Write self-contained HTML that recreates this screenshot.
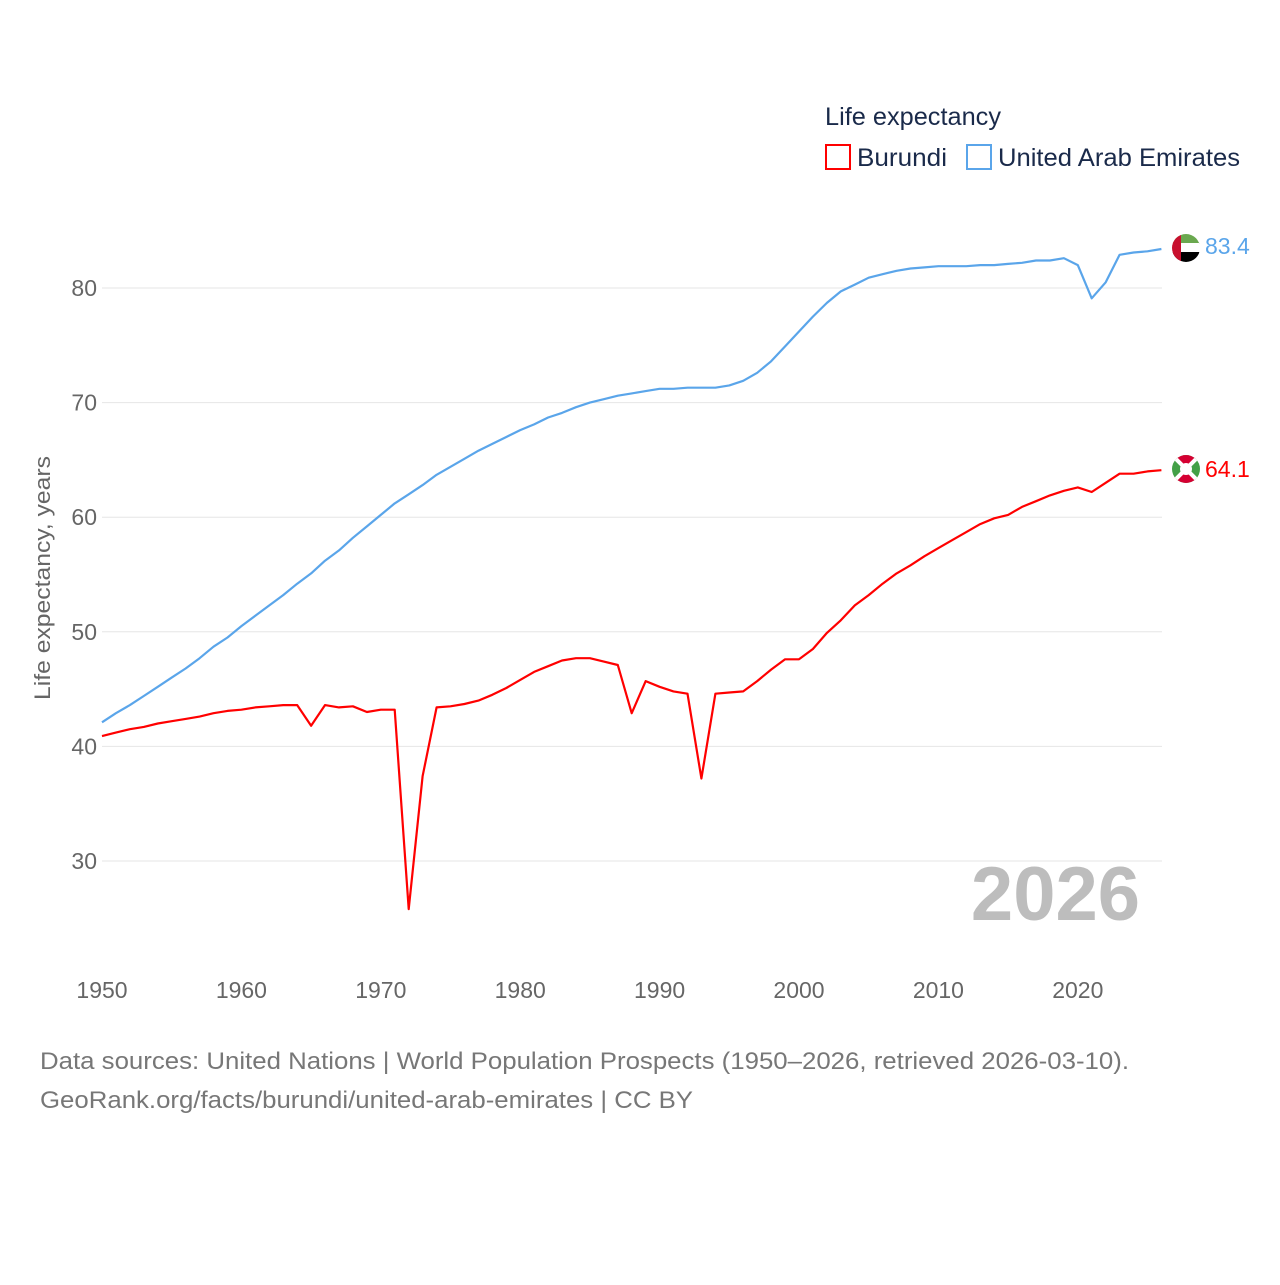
<!DOCTYPE html>
<html><head><meta charset="utf-8"><style>
body{margin:0;background:#fff;font-family:"Liberation Sans",sans-serif}
svg text{font-family:"Liberation Sans",sans-serif}
</style></head><body>
<svg id="chart" width="1280" height="1280" viewBox="0 0 1280 1280" xmlns="http://www.w3.org/2000/svg">
<g id="grid"></g>
<g id="yticks"></g>
<g id="xticks"></g>
<text transform="translate(50,578) rotate(-90)" text-anchor="middle" font-size="22" fill="#666" textLength="244" lengthAdjust="spacingAndGlyphs">Life expectancy, years</text>
<text x="1140" y="920" text-anchor="end" font-size="76" font-weight="bold" fill="#bdbdbd">2026</text>
<g id="series"></g>
<g>
<text x="825" y="125" font-size="25" fill="#1a2a4a" textLength="176" lengthAdjust="spacingAndGlyphs">Life expectancy</text>
<rect x="826" y="145" width="24" height="24" fill="none" stroke="#ff0000" stroke-width="2"/>
<text x="857" y="166" font-size="25" fill="#1a2a4a" textLength="90" lengthAdjust="spacingAndGlyphs">Burundi</text>
<rect x="967" y="145" width="24" height="24" fill="none" stroke="#5aa5ea" stroke-width="2"/>
<text x="998" y="166" font-size="25" fill="#1a2a4a" textLength="242" lengthAdjust="spacingAndGlyphs">United Arab Emirates</text>
</g>
<g>
<clipPath id="c1"><circle cx="1186" cy="248" r="14"/></clipPath>
<g clip-path="url(#c1)"><rect x="1172" y="234" width="28" height="10" fill="#6aa84f"/><rect x="1172" y="243" width="28" height="10" fill="#fff"/><rect x="1172" y="252" width="28" height="10" fill="#000"/><rect x="1172" y="234" width="9" height="28" fill="#c8102e"/></g>
</g>
<g>
<clipPath id="c2"><circle cx="1186" cy="469" r="14"/></clipPath>
<g clip-path="url(#c2)"><rect x="1172" y="455" width="28" height="28" fill="#43a047"/><polygon points="1172,455 1200,455 1186,469" fill="#d50032"/><polygon points="1172,483 1200,483 1186,469" fill="#d50032"/><line x1="1172" y1="455" x2="1200" y2="483" stroke="#fff" stroke-width="4"/><line x1="1200" y1="455" x2="1172" y2="483" stroke="#fff" stroke-width="4"/><circle cx="1186" cy="469" r="6" fill="#fff"/></g>
</g>
<text x="1205" y="254" font-size="23" fill="#5aa5ea">83.4</text>
<text x="1205" y="477" font-size="23" fill="#ff0000">64.1</text>
<text x="40" y="1069" font-size="24" fill="#777" textLength="1089" lengthAdjust="spacingAndGlyphs">Data sources: United Nations | World Population Prospects (1950–2026, retrieved 2026-03-10).</text>
<text x="40" y="1108" font-size="24" fill="#777" textLength="653" lengthAdjust="spacingAndGlyphs">GeoRank.org/facts/burundi/united-arab-emirates | CC BY</text>
</svg>
<script>
const startYear = 1950;
const uaeValues = [42.1,42.9,43.6,44.4,45.2,46.0,46.8,47.7,48.7,49.5,50.5,51.4,52.3,53.2,54.2,55.1,56.2,57.1,58.2,59.2,60.2,61.2,62.0,62.8,63.7,64.4,65.1,65.8,66.4,67.0,67.6,68.1,68.7,69.1,69.6,70.0,70.3,70.6,70.8,71.0,71.2,71.2,71.3,71.3,71.3,71.5,71.9,72.6,73.6,74.9,76.2,77.5,78.7,79.7,80.3,80.9,81.2,81.5,81.7,81.8,81.9,81.9,81.9,82.0,82.0,82.1,82.2,82.4,82.4,82.6,82.0,79.1,80.5,82.9,83.1,83.2,83.4];
const burundiValues = [40.9,41.2,41.5,41.7,42.0,42.2,42.4,42.6,42.9,43.1,43.2,43.4,43.5,43.6,43.6,41.8,43.6,43.4,43.5,43.0,43.2,43.2,25.8,37.4,43.4,43.5,43.7,44.0,44.5,45.1,45.8,46.5,47.0,47.5,47.7,47.7,47.4,47.1,42.9,45.7,45.2,44.8,44.6,37.2,44.6,44.7,44.8,45.7,46.7,47.6,47.6,48.5,49.9,51.0,52.3,53.2,54.2,55.1,55.8,56.6,57.3,58.0,58.7,59.4,59.9,60.2,60.9,61.4,61.9,62.3,62.6,62.2,63.0,63.8,63.8,64.0,64.1];
const yTicks = [30,40,50,60,70,80];
const xTicks = [1950,1960,1970,1980,1990,2000,2010,2020];
const NS="http://www.w3.org/2000/svg";
function x(yr){return 102+(yr-1950)*13.94;}
function y(v){return 288+(80-v)*11.46;}
function mk(t,a,p){const e=document.createElementNS(NS,t);for(const k in a)e.setAttribute(k,a[k]);p.appendChild(e);return e;}
const grid=document.getElementById('grid'),yt=document.getElementById('yticks'),xt=document.getElementById('xticks'),ser=document.getElementById('series');
yTicks.forEach(v=>{
 const l=mk('line',{x1:102,x2:1162,y1:y(v),y2:y(v),stroke:'#e6e6e6','stroke-width':1},grid);
 
 
 const t=mk('text',{x:97,y:y(v)+8,'text-anchor':'end','font-size':23,fill:'#666'},yt);
 t.textContent=v;
 
 
});
xTicks.forEach(v=>{
 const t=mk('text',{x:x(v),y:998,'text-anchor':'middle','font-size':23,fill:'#666'},xt);
 t.textContent=v;
 
 
});
function line(vals,col,name){
 const d=vals.map((v,i)=>(i?'L':'M')+x(startYear+i).toFixed(1)+','+y(v).toFixed(1)).join('');
 const p=mk('path',{d:d,fill:'none',stroke:col,'stroke-width':2.2,'stroke-linejoin':'round'},ser);
 
 
}
line(uaeValues,'#5aa5ea','uae-line');
line(burundiValues,'#ff0000','burundi-line');
</script>
</body></html>
